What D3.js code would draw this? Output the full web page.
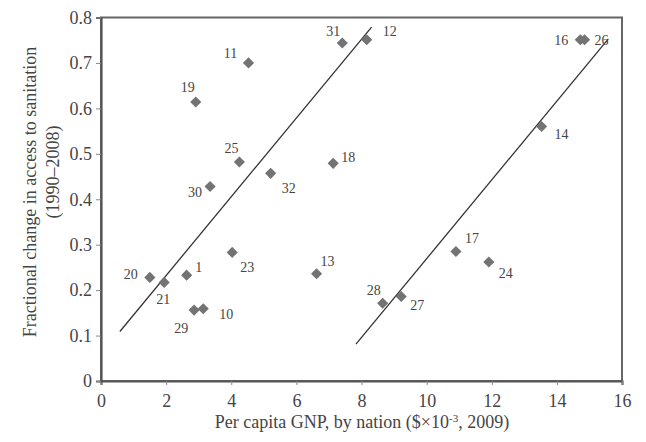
<!DOCTYPE html>
<html>
<head>
<meta charset="utf-8">
<script src="https://cdn.jsdelivr.net/npm/d3@7"></script>
<style>
  body { margin: 0; background: #fff; }
  text { font-family: "Liberation Serif", "Times New Roman", serif; fill: #454545; }
</style>
</head>
<body>
<svg id="chart" width="646" height="442"></svg>
<script>

// nation id, GNP (k$), fractional change
var ids  = [31, 12, 11, 19, 25, 32, 18, 30, 23, 13, 20, 21, 1, 29, 10, 16, 26, 14, 17, 24, 28, 27];
var gnp  = [7.41, 8.16, 4.53, 2.91, 4.25, 5.21, 7.13, 3.35, 4.03, 6.62, 1.50, 1.94, 2.63, 2.86, 3.14, 14.72, 14.85, 13.53, 10.90, 11.91, 8.65, 9.22];
var frac = [0.744, 0.751, 0.700, 0.614, 0.482, 0.457, 0.479, 0.428, 0.283, 0.236, 0.228, 0.217, 0.233, 0.156, 0.159, 0.751, 0.751, 0.560, 0.285, 0.262, 0.171, 0.186];

// two trend lines: [x0, y0, x1, y1]
var trendA = [0.58, 0.109, 8.31, 0.779];
var trendB = [7.83, 0.081, 15.58, 0.753];

var xTicks = [0, 2, 4, 6, 8, 10, 12, 14, 16];
var yTicks = [0, 0.1, 0.2, 0.3, 0.4, 0.5, 0.6, 0.7, 0.8];

// label placement (px from diamond centre)
var labelOff = {
  31: [-9, -12], 12: [23, -9], 11: [-18, -10], 19: [-8, -15], 25: [-8, -14],
  32: [18, 15], 18: [15, -6], 30: [-15, 6], 23: [15, 15], 13: [11, -13],
  20: [-19, -3], 21: [-1, 17], 1: [12, -8], 29: [-13, 18], 10: [23, 5],
  16: [-19, 0], 26: [17, 0], 14: [20, 8], 17: [16, -13], 24: [17, 11],
  28: [-9, -13], 27: [16, 9]
};

var svg = d3.select('#chart');
var pL = 101, pR = 622, pT = 17.5, pB = 381;   // plot box

var x = d3.scaleLinear().domain([0, 16]).range([pL, pR]);
var y = d3.scaleLinear().domain([0, 0.8]).range([pB, pT]);

// frame
svg.append('rect')
  .attr('x', pL).attr('y', pT)
  .attr('width', pR - pL).attr('height', pB - pT)
  .attr('fill', 'none').attr('stroke', '#666').attr('stroke-width', 2);

var xAxis = svg.append('g')
  .attr('transform', 'translate(0,' + pB + ')')
  .call(d3.axisBottom(x).tickValues(xTicks).tickSize(4).tickFormat(d3.format('d')));
var yAxis = svg.append('g')
  .attr('transform', 'translate(' + pL + ',0)')
  .call(d3.axisLeft(y).tickValues(yTicks).tickSize(5).tickFormat(function (d) { return d === 0 ? '0' : d3.format('.1f')(d); }));

[xAxis, yAxis].forEach(function (ax) {
  ax.select('.domain').attr('stroke', '#555').attr('stroke-width', 2.2);
  ax.selectAll('.tick line').attr('stroke', '#888').attr('stroke-width', 1);
  ax.selectAll('.tick text').attr('font-size', 18).attr('fill', '#454545')
    .attr('font-family', '"Liberation Serif", serif');
});
xAxis.selectAll('.tick text').attr('dy', '1.05em');
yAxis.selectAll('.tick text').attr('dx', '-0.05em');

// trend lines
[trendA, trendB].forEach(function (t) {
  svg.append('line')
    .attr('x1', x(t[0])).attr('y1', y(t[1]))
    .attr('x2', x(t[2])).attr('y2', y(t[3]))
    .attr('stroke', '#333').attr('stroke-width', 1.3);
});

// diamonds
var pts = ids.map(function (id, i) { return { id: id, gx: gnp[i], fy: frac[i] }; });
svg.append('g').selectAll('path')
  .data(pts).enter().append('path')
  .attr('d', d3.symbol().type(d3.symbolSquare).size(62))
  .attr('transform', function (d) { return 'translate(' + x(d.gx) + ',' + y(d.fy) + ') rotate(45)'; })
  .attr('fill', '#737373');

svg.append('g').selectAll('text')
  .data(pts).enter().append('text')
  .attr('x', function (d) { return x(d.gx) + labelOff[d.id][0]; })
  .attr('y', function (d) { return y(d.fy) + labelOff[d.id][1]; })
  .attr('dy', '0.35em')
  .attr('text-anchor', 'middle')
  .attr('font-size', 14)
  .text(function (d) { return d.id; });

// axis titles
var xt = svg.append('text')
  .attr('x', 362).attr('y', 428)
  .attr('text-anchor', 'middle')
  .attr('font-size', 18);
xt.append('tspan').text('Per capita GNP, by nation ($\u00d710');
xt.append('tspan').attr('dy', -6).attr('font-size', 11).text('-3');
xt.append('tspan').attr('dy', 6).text(', 2009)');

svg.append('text')
  .attr('transform', 'translate(36,192) rotate(-90)')
  .attr('text-anchor', 'middle')
  .attr('font-size', 18)
  .text('Fractional change in access to sanitation');
svg.append('text')
  .attr('transform', 'translate(59,172) rotate(-90)')
  .attr('text-anchor', 'middle')
  .attr('font-size', 18)
  .text('(1990\u20132008)');

</script>
</body>
</html>
